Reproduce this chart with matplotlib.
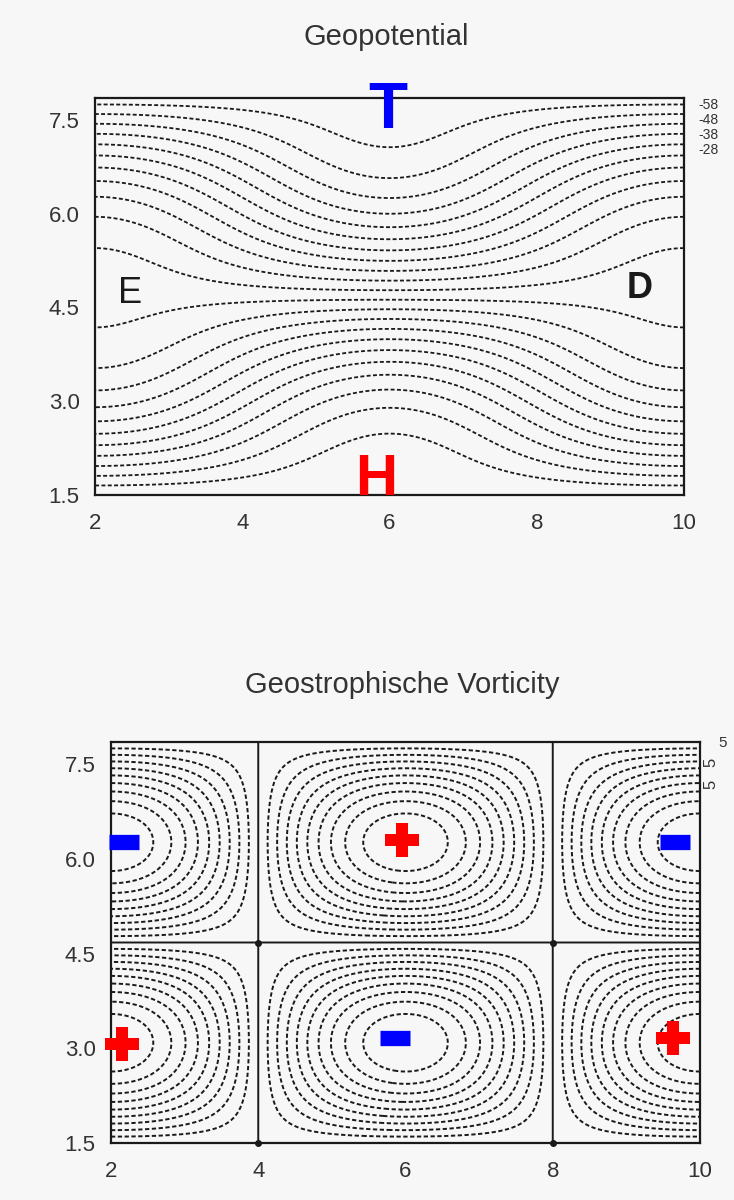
import numpy as np
import matplotlib
matplotlib.use('Agg')
import matplotlib.pyplot as plt

plt.rcParams['font.family'] = ['Liberation Sans', 'DejaVu Sans']

# Domain of both panels
x_limits = [2, 10]
y_limits = [1.5, 7.85]
x_ticks = [2, 4, 6, 8, 10]
y_ticks = [1.5, 3.0, 4.5, 6.0, 7.5]
y_ticklabels = ['1.5', '3.0', '4.5', '6.0', '7.5']

# Wave parameters
trough_x = 6          # trough / ridge axis
wavelength_x = 8      # cells 2-4-8-10
wave_amp = 0.85       # wave amplitude relative to mean gradient
geo_first = -7.66     # first geopotential isoline
geo_step = 0.28       # isoline spacing
vort_levels = [-0.9, -0.8, -0.7, -0.6, -0.5, -0.4, -0.3, -0.2, -0.1, 0.0,
               0.1, 0.2, 0.3, 0.4, 0.5, 0.6, 0.7, 0.8, 0.9]
edge_labels = ['-58', '-48', '-38', '-28']

# Hand markers on the vorticity panel
plus_x = [5.95, 2.15, 9.64]
plus_y = [6.30, 3.06, 3.17]
minus_x = [2.18, 9.66, 5.86]
minus_y = [6.27, 6.27, 3.16]

# Fields
x = np.linspace(x_limits[0], x_limits[1], 401)
y = np.linspace(y_limits[0], y_limits[1], 401)
X, Y = np.meshgrid(x, y)
kx = 2 * np.pi / wavelength_x
ly = 2 * np.pi / (y_limits[1] - y_limits[0])
wave = np.cos(kx * (X - trough_x)) * np.sin(ly * (Y - y_limits[0]))
geo = -Y + wave_amp * wave
vort = -wave
geo_levels = np.arange(geo_first, -1.5, geo_step)

W, H = 734, 1200
fig = plt.figure(figsize=(W / 100, H / 100), dpi=100, facecolor='#f7f7f7')


def px_box(l, t, r, b):
    return [l / W, 1 - b / H, (r - l) / W, (b - t) / H]


ax1 = fig.add_axes(px_box(95, 98, 684, 495))
ax2 = fig.add_axes(px_box(111, 742, 700, 1143))

ink = '#1a1a1a'
dash = (0, (2.2, 1.3))

# --- Geopotential ---
ax1.contour(X, Y, geo, levels=geo_levels, colors=ink, linewidths=1.3,
            linestyles=[dash])

# --- Vorticity ---
styles = ['solid' if abs(v) < 1e-9 else dash for v in vort_levels]
ax2.contour(X, Y, vort, levels=vort_levels, colors=ink, linewidths=1.4,
            linestyles=styles)
mid_y = (y_limits[0] + y_limits[1]) / 2
ax2.plot([4, 8, 4, 8], [mid_y, mid_y, y_limits[0], y_limits[0]], 'o',
         color=ink, ms=4, clip_on=False, zorder=5)

for ax, title, title_y in [(ax1, 'Geopotential', 37), (ax2, 'Geostrophische Vorticity', 685)]:
    ax.set_xlim(x_limits)
    ax.set_ylim(y_limits)
    ax.set_facecolor('none')
    ax.set_xticks(x_ticks)
    ax.set_xticklabels([str(v) for v in x_ticks])
    ax.set_yticks(y_ticks)
    ax.set_yticklabels(y_ticklabels)
    ax.tick_params(length=0, labelsize=16, colors='#333333', pad=11)
    ax.tick_params(axis='x', pad=13)
    for s in ax.spines.values():
        s.set_linewidth(1.6)
        s.set_color(ink)
    fig.text((ax.get_position().x0 + ax.get_position().x1) / 2 - 0.005,
             1 - title_y / H, title, ha='center', va='center',
             fontsize=21, color='#333333')

# Letters on geopotential
ax1.text(5.97, 7.64, 'T', color='#0000ff', fontsize=46, fontweight='bold',
         ha='center', va='center', clip_on=False, zorder=6)
ax1.text(5.82, 1.74, 'H', color='#ff0000', fontsize=42, fontweight='bold',
         ha='center', va='center', clip_on=False, zorder=6)
ax1.text(2.48, 4.73, 'E', color=ink, fontsize=26, ha='center', va='center')
ax1.text(9.40, 4.81, 'D', color=ink, fontsize=26, fontweight='bold',
         ha='center', va='center')

# Right-edge contour labels
for lab, yy in zip(edge_labels, [7.74, 7.50, 7.26, 7.02]):
    ax1.text(10.2, yy, lab, fontsize=10, color='#333333', ha='left',
             va='center', clip_on=False)
ax2.text(10.25, 7.84, '5', fontsize=11, color='#333333', ha='left',
         va='center', clip_on=False)
ax2.text(10.05, 7.52, '5', fontsize=12, color='#333333', ha='left',
         va='center', rotation=90, clip_on=False)
ax2.text(10.05, 7.18, '5', fontsize=12, color='#333333', ha='left',
         va='center', rotation=90, clip_on=False)

# Signs on vorticity
ax2.plot(plus_x, plus_y, linestyle='none', marker='P', ms=24, color='#ff0000',
         markeredgewidth=0, zorder=6, clip_on=False)
ax2.plot(minus_x, minus_y, linestyle='none', marker='_', ms=21, mew=11,
         color='#0000ff', zorder=6, clip_on=False)

fig.savefig('out.png', dpi=100, facecolor=fig.get_facecolor())
